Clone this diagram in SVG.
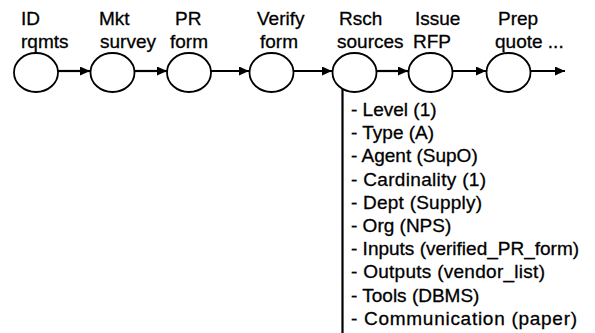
<svg xmlns="http://www.w3.org/2000/svg" width="595" height="333" viewBox="0 0 595 333">
<style>
text{font-family:"Liberation Sans",Arial,sans-serif;font-size:19px;fill:#000;stroke:#000;stroke-width:0.3}
.n ellipse{fill:#fff;stroke:#000;stroke-width:1.8}
.c line{stroke:#000;stroke-width:2.2}
</style>
<defs>
<marker id="ah" markerUnits="userSpaceOnUse" markerWidth="11" markerHeight="9" refX="10" refY="4.5" orient="auto">
<path d="M0,0 L10,4.5 L0,9 z" fill="#000"/>
</marker>
</defs>
<rect width="595" height="333" fill="#fff"/>
<g id="connectors" class="c">
<line x1="58" y1="71" x2="90" y2="71" marker-end="url(#ah)"/>
<line x1="135" y1="71" x2="167" y2="71" marker-end="url(#ah)"/>
<line x1="211" y1="71" x2="249" y2="71" marker-end="url(#ah)"/>
<line x1="294" y1="71" x2="332" y2="71" marker-end="url(#ah)"/>
<line x1="377" y1="71" x2="408" y2="71" marker-end="url(#ah)"/>
<line x1="453" y1="71" x2="486" y2="71" marker-end="url(#ah)"/>
<line x1="531" y1="71" x2="565" y2="71" marker-end="url(#ah)"/>
<line x1="342.5" y1="88.5" x2="342.5" y2="333"/>
</g>
<g id="n1" class="n"><ellipse cx="36" cy="72.5" rx="22" ry="19.5"/><text x="21" y="24.5">ID</text><text x="21" y="47.5">rqmts</text></g>
<g id="n2" class="n"><ellipse cx="112.5" cy="72.5" rx="22" ry="19.5"/><text x="99" y="24.5">Mkt</text><text x="100" y="47.5">survey</text></g>
<g id="n3" class="n"><ellipse cx="189" cy="72.5" rx="22" ry="19.5"/><text x="175" y="24.5">PR</text><text x="170" y="47.5">form</text></g>
<g id="n4" class="n"><ellipse cx="271.5" cy="72.5" rx="22" ry="19.5"/><text x="257" y="24.5">Verify</text><text x="260" y="47.5">form</text></g>
<g id="n5" class="n"><ellipse cx="354.5" cy="72.5" rx="22" ry="19.5"/><text x="339" y="24.5">Rsch</text><text x="337" y="47.5">sources</text></g>
<g id="n6" class="n"><ellipse cx="430.5" cy="72.5" rx="22" ry="19.5"/><text x="415" y="24.5">Issue</text><text x="413" y="47.5">RFP</text></g>
<g id="n7" class="n"><ellipse cx="508.5" cy="72.5" rx="22" ry="19.5"/><text x="498" y="24.5">Prep</text><text x="495" y="47.5">quote ...</text></g>
<g id="attributes">
<text x="351" y="116">- Level (1)</text>
<text x="351" y="139.2">- Type (A)</text>
<text x="351" y="162.4">- Agent (SupO)</text>
<text x="351" y="185.6" textLength="135">- Cardinality (1)</text>
<text x="351" y="208.8" textLength="131">- Dept (Supply)</text>
<text x="351" y="232">- Org (NPS)</text>
<text x="351" y="255.2">- Inputs (verified_PR_form)</text>
<text x="351" y="278.4" textLength="194">- Outputs (vendor_list)</text>
<text x="351" y="301.6">- Tools (DBMS)</text>
<text x="351" y="324.8" textLength="226">- Communication (paper)</text>
</g>
</svg>
